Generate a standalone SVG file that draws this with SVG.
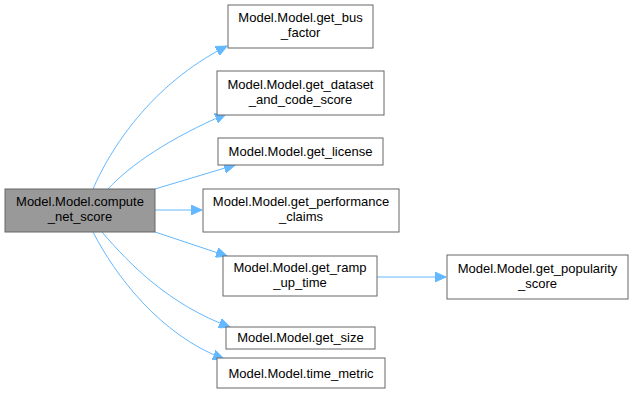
<svg xmlns="http://www.w3.org/2000/svg" width="633" height="405" viewBox="0 0 633 405">
<defs>
<style>
.n rect{fill:#ffffff;stroke:#666666;stroke-width:1}
.n.root rect{fill:#999999}
.n text{font-family:"Liberation Sans",Arial,sans-serif;font-size:13px;fill:#000;text-anchor:middle}
.e path{fill:none;stroke:#63b8ff;stroke-width:1}
</style>
<marker id="ah" markerUnits="userSpaceOnUse" markerWidth="12" markerHeight="10" refX="11" refY="5" orient="auto">
<path d="M0,0 L11,5 L0,10 Z" fill="#63b8ff" stroke="#63b8ff"/>
</marker>
</defs>
<rect width="633" height="405" fill="#ffffff"/>
<g id="edges" class="e">
<path d="M93,189 C110,150 150,85 227,46" marker-end="url(#ah)"/>
<path d="M108,189 C130,165 170,138 226,114" marker-end="url(#ah)"/>
<path d="M155,189 L235,165" marker-end="url(#ah)"/>
<path d="M155,210 L202,210" marker-end="url(#ah)"/>
<path d="M155,232 L227,256" marker-end="url(#ah)"/>
<path d="M102,232 C130,265 170,305 230,327" marker-end="url(#ah)"/>
<path d="M93,232 C115,275 160,335 224,359" marker-end="url(#ah)"/>
<path d="M377,277 L446,277" marker-end="url(#ah)"/>
</g>
<g id="compute_net_score" class="n root">
<rect x="5" y="189" width="150" height="43"/>
<text x="80" y="206">Model.Model.compute</text>
<text x="80" y="221">_net_score</text>
</g>
<g id="get_bus_factor" class="n">
<rect x="228" y="5" width="145" height="43"/>
<text x="300.5" y="22">Model.Model.get_bus</text>
<text x="300.5" y="37">_factor</text>
</g>
<g id="get_dataset_and_code_score" class="n">
<rect x="217" y="71" width="167" height="44"/>
<text x="300.5" y="89">Model.Model.get_dataset</text>
<text x="300.5" y="104">_and_code_score</text>
</g>
<g id="get_license" class="n">
<rect x="218" y="138" width="165" height="27"/>
<text x="300.5" y="156">Model.Model.get_license</text>
</g>
<g id="get_performance_claims" class="n">
<rect x="203" y="189" width="196" height="43"/>
<text x="301" y="206">Model.Model.get_performance</text>
<text x="301" y="221">_claims</text>
</g>
<g id="get_ramp_up_time" class="n">
<rect x="223" y="256" width="154" height="40"/>
<text x="300" y="272">Model.Model.get_ramp</text>
<text x="300" y="287">_up_time</text>
</g>
<g id="get_popularity_score" class="n">
<rect x="447" y="255" width="181" height="44"/>
<text x="537.5" y="273">Model.Model.get_popularity</text>
<text x="537.5" y="288">_score</text>
</g>
<g id="get_size" class="n">
<rect x="226" y="327" width="149" height="22"/>
<text x="300.5" y="342">Model.Model.get_size</text>
</g>
<g id="time_metric" class="n">
<rect x="217" y="358" width="168" height="30"/>
<text x="301" y="378">Model.Model.time_metric</text>
</g>
</svg>
